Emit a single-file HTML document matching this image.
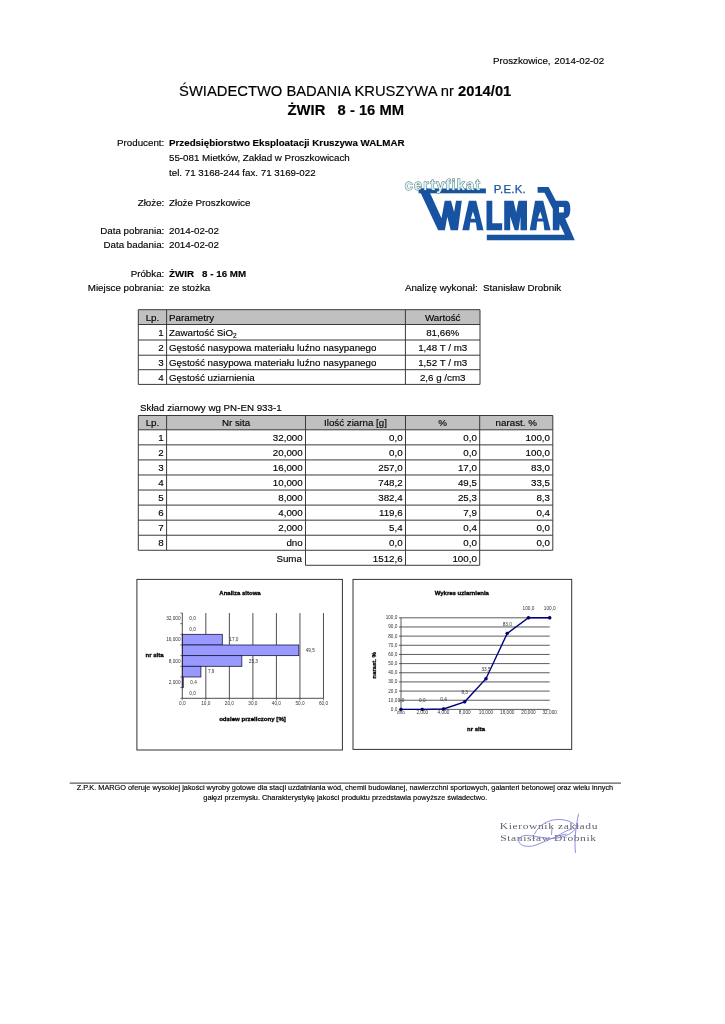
<!DOCTYPE html>
<html><head><meta charset="utf-8"><style>
html,body{margin:0;padding:0;background:#fff;}
svg{display:block;will-change:transform;}
</style></head><body>
<svg width="725" height="1024" viewBox="0 0 725 1024" font-family='"Liberation Sans", sans-serif' fill="#000" stroke="#000" stroke-width="0.15" style="white-space:pre">
<g id="logo" stroke="none">
<g fill="#1753a0">
<rect x="418.6" y="188.5" width="67.3" height="4.8"/>
<polygon points="418.6,188.5 428,188.5 441.5,218.2 444.7,200.7 451,200.7 454.1,212 456,200.7 461.8,200.7 458,230.3 450.7,230.3 447.3,216.8 444.9,230.3 438.1,230.3"/>
<path fill-rule="evenodd" d="M468.9,200.7 L476.2,200.7 L483.5,230.3 L476.9,230.3 L475.9,222.5 L470.2,222.5 L469.3,230.3 L462.3,230.3 Z M472.9,211.5 L470.8,218.8 L475.3,218.8 Z"/>
<polygon points="486.5,200.7 492.3,200.7 492.3,223.3 502.2,223.3 502.2,230.3 486.5,230.3"/>
<polygon points="504.2,200.8 513.5,200.8 516.2,212.6 518.5,200.8 527,200.8 527,230.2 520.5,230.2 520.5,216.5 518.5,230.2 514.7,230.2 510.2,216.5 510.2,230.2 504.2,230.2"/>
<path fill-rule="evenodd" d="M535.1,200.8 L543.2,200.8 L550.6,230.2 L544.4,230.2 L543.3,221.5 L537.2,221.5 L536.3,230.2 L529.7,230.2 Z M540.2,211.4 L537.8,218.4 L542.5,218.4 Z"/>
<path fill-rule="evenodd" d="M537.6,186.9 L548.6,186.9 L555.9,200.7 L566.6,200.7 Q570.3,201 570.3,209.5 Q570.3,217.5 565.2,218.6 L574.8,240.3 L486.8,240.3 L486.8,234.8 L564.8,234.8 L559.7,224 L559.2,230.3 L552.8,230.3 L552.8,209 L544.5,192.8 L537.6,192.8 Z M559,206.9 L563.6,206.9 Q564.2,209.6 563.6,212.4 L559,212.4 Z"/>
</g>
<text x="493.8" y="192.6" font-size="11.4" fill="#1753a0" stroke="#1753a0" stroke-width="0.25" letter-spacing="0.2">P.E.K.</text>
<text x="404.8" y="189.9" font-size="14.4" font-weight="bold" letter-spacing="1.25" fill="#d2f8f8" stroke="#55606a" stroke-width="0.9" paint-order="stroke">certyfikat</text>
</g>
<text x="493" y="63.6" font-size="9.78">Proszkowice,</text>
<text x="604.2" y="63.6" font-size="9.78" text-anchor="end">2014-02-02</text>
<text x="345.2" y="96.2" font-size="14.75" text-anchor="middle">ŚWIADECTWO BADANIA KRUSZYWA nr <tspan font-weight="bold">2014/01</tspan></text>
<text x="345.8" y="115" font-size="14.75" text-anchor="middle" font-weight="bold">ŻWIR &#160; 8 - 16 MM</text>
<text x="164.3" y="145.9" font-size="9.78" text-anchor="end">Producent:</text>
<text x="169" y="145.9" font-size="9.78"><tspan font-weight="bold">Przedsiębiorstwo Eksploatacji Kruszywa WALMAR</tspan></text>
<text x="169" y="160.5" font-size="9.78">55-081 Mietków, Zakład w Proszkowicach</text>
<text x="169" y="175.5" font-size="9.78">tel. 71 3168-244 fax. 71 3169-022</text>
<text x="164.3" y="206.2" font-size="9.78" text-anchor="end">Złoże:</text>
<text x="169" y="206.2" font-size="9.78">Złoże Proszkowice</text>
<text x="164.3" y="234.4" font-size="9.78" text-anchor="end">Data pobrania:</text>
<text x="169" y="234.4" font-size="9.78">2014-02-02</text>
<text x="164.3" y="247.7" font-size="9.78" text-anchor="end">Data badania:</text>
<text x="169" y="247.7" font-size="9.78">2014-02-02</text>
<text x="164.3" y="277.2" font-size="9.78" text-anchor="end">Próbka:</text>
<text x="169" y="277.2" font-size="9.78"><tspan font-weight="bold">ŻWIR &#160; 8 - 16 MM</tspan></text>
<text x="164.3" y="291" font-size="9.78" text-anchor="end">Miejsce pobrania:</text>
<text x="169" y="291" font-size="9.78">ze stożka</text>
<text x="404.9" y="291" font-size="9.78">Analizę wykonał:&#160; Stanisław Drobnik</text>
<rect x="138.3" y="309.7" width="341.7" height="14.800000000000011" fill="#c0c0c0" stroke="none" stroke-width="1"/>
<line x1="138.3" y1="309.7" x2="480" y2="309.7" stroke="#3a3a3a" stroke-width="1"/>
<line x1="138.3" y1="324.5" x2="480" y2="324.5" stroke="#3a3a3a" stroke-width="1"/>
<line x1="138.3" y1="340" x2="480" y2="340" stroke="#3a3a3a" stroke-width="1"/>
<line x1="138.3" y1="355.2" x2="480" y2="355.2" stroke="#3a3a3a" stroke-width="1"/>
<line x1="138.3" y1="369.7" x2="480" y2="369.7" stroke="#3a3a3a" stroke-width="1"/>
<line x1="138.3" y1="384.4" x2="480" y2="384.4" stroke="#3a3a3a" stroke-width="1"/>
<line x1="138.3" y1="309.7" x2="138.3" y2="384.4" stroke="#3a3a3a" stroke-width="1"/>
<line x1="166.6" y1="309.7" x2="166.6" y2="384.4" stroke="#3a3a3a" stroke-width="1"/>
<line x1="405.4" y1="309.7" x2="405.4" y2="384.4" stroke="#3a3a3a" stroke-width="1"/>
<line x1="480" y1="309.7" x2="480" y2="384.4" stroke="#3a3a3a" stroke-width="1"/>
<text x="152.45" y="320.6" font-size="9.78" text-anchor="middle">Lp.</text>
<text x="169" y="320.6" font-size="9.78">Parametry</text>
<text x="442.7" y="320.6" font-size="9.78" text-anchor="middle">Wartość</text>
<text x="163.8" y="335.75" font-size="9.78" text-anchor="end">1</text>
<text x="169" y="335.75" font-size="9.78">Zawartość SiO<tspan font-size="6.5" dy="2">2</tspan></text>
<text x="442.7" y="335.75" font-size="9.78" text-anchor="middle">81,66%</text>
<text x="163.8" y="351.1" font-size="9.78" text-anchor="end">2</text>
<text x="169" y="351.1" font-size="9.78">Gęstość nasypowa materiału luźno nasypanego</text>
<text x="442.7" y="351.1" font-size="9.78" text-anchor="middle">1,48 T / m3</text>
<text x="163.8" y="365.95" font-size="9.78" text-anchor="end">3</text>
<text x="169" y="365.95" font-size="9.78">Gęstość nasypowa materiału luźno nasypanego</text>
<text x="442.7" y="365.95" font-size="9.78" text-anchor="middle">1,52 T / m3</text>
<text x="163.8" y="380.54999999999995" font-size="9.78" text-anchor="end">4</text>
<text x="169" y="380.54999999999995" font-size="9.78">Gęstość uziarnienia</text>
<text x="442.7" y="380.54999999999995" font-size="9.78" text-anchor="middle">2,6 g /cm3</text>
<text x="140" y="410.9" font-size="9.78">Skład ziarnowy wg PN-EN 933-1</text>
<rect x="138.3" y="415.5" width="414.49999999999994" height="14.300000000000011" fill="#c0c0c0" stroke="none" stroke-width="1"/>
<line x1="138.3" y1="415.5" x2="552.8" y2="415.5" stroke="#3a3a3a" stroke-width="1"/>
<line x1="138.3" y1="429.8" x2="552.8" y2="429.8" stroke="#3a3a3a" stroke-width="1"/>
<line x1="138.3" y1="444.86" x2="552.8" y2="444.86" stroke="#3a3a3a" stroke-width="1"/>
<line x1="138.3" y1="459.92" x2="552.8" y2="459.92" stroke="#3a3a3a" stroke-width="1"/>
<line x1="138.3" y1="474.98" x2="552.8" y2="474.98" stroke="#3a3a3a" stroke-width="1"/>
<line x1="138.3" y1="490.04" x2="552.8" y2="490.04" stroke="#3a3a3a" stroke-width="1"/>
<line x1="138.3" y1="505.1" x2="552.8" y2="505.1" stroke="#3a3a3a" stroke-width="1"/>
<line x1="138.3" y1="520.16" x2="552.8" y2="520.16" stroke="#3a3a3a" stroke-width="1"/>
<line x1="138.3" y1="535.22" x2="552.8" y2="535.22" stroke="#3a3a3a" stroke-width="1"/>
<line x1="138.3" y1="550.28" x2="552.8" y2="550.28" stroke="#3a3a3a" stroke-width="1"/>
<line x1="138.3" y1="415.5" x2="138.3" y2="550.28" stroke="#3a3a3a" stroke-width="1"/>
<line x1="166.6" y1="415.5" x2="166.6" y2="550.28" stroke="#3a3a3a" stroke-width="1"/>
<line x1="305.5" y1="415.5" x2="305.5" y2="550.28" stroke="#3a3a3a" stroke-width="1"/>
<line x1="405.5" y1="415.5" x2="405.5" y2="550.28" stroke="#3a3a3a" stroke-width="1"/>
<line x1="479.7" y1="415.5" x2="479.7" y2="550.28" stroke="#3a3a3a" stroke-width="1"/>
<line x1="552.8" y1="415.5" x2="552.8" y2="550.28" stroke="#3a3a3a" stroke-width="1"/>
<text x="152.45" y="426.15" font-size="9.78" text-anchor="middle">Lp.</text>
<text x="236.05" y="426.15" font-size="9.78" text-anchor="middle">Nr sita</text>
<text x="355.5" y="426.15" font-size="9.78" text-anchor="middle">Ilość ziarna [g]</text>
<text x="442.6" y="426.15" font-size="9.78" text-anchor="middle">%</text>
<text x="516.25" y="426.15" font-size="9.78" text-anchor="middle">narast. %</text>
<text x="163.79999999999998" y="440.83000000000004" font-size="9.78" text-anchor="end">1</text>
<text x="302.7" y="440.83000000000004" font-size="9.78" text-anchor="end">32,000</text>
<text x="402.7" y="440.83000000000004" font-size="9.78" text-anchor="end">0,0</text>
<text x="476.9" y="440.83000000000004" font-size="9.78" text-anchor="end">0,0</text>
<text x="550.0" y="440.83000000000004" font-size="9.78" text-anchor="end">100,0</text>
<text x="163.79999999999998" y="455.89" font-size="9.78" text-anchor="end">2</text>
<text x="302.7" y="455.89" font-size="9.78" text-anchor="end">20,000</text>
<text x="402.7" y="455.89" font-size="9.78" text-anchor="end">0,0</text>
<text x="476.9" y="455.89" font-size="9.78" text-anchor="end">0,0</text>
<text x="550.0" y="455.89" font-size="9.78" text-anchor="end">100,0</text>
<text x="163.79999999999998" y="470.95000000000005" font-size="9.78" text-anchor="end">3</text>
<text x="302.7" y="470.95000000000005" font-size="9.78" text-anchor="end">16,000</text>
<text x="402.7" y="470.95000000000005" font-size="9.78" text-anchor="end">257,0</text>
<text x="476.9" y="470.95000000000005" font-size="9.78" text-anchor="end">17,0</text>
<text x="550.0" y="470.95000000000005" font-size="9.78" text-anchor="end">83,0</text>
<text x="163.79999999999998" y="486.01" font-size="9.78" text-anchor="end">4</text>
<text x="302.7" y="486.01" font-size="9.78" text-anchor="end">10,000</text>
<text x="402.7" y="486.01" font-size="9.78" text-anchor="end">748,2</text>
<text x="476.9" y="486.01" font-size="9.78" text-anchor="end">49,5</text>
<text x="550.0" y="486.01" font-size="9.78" text-anchor="end">33,5</text>
<text x="163.79999999999998" y="501.07000000000005" font-size="9.78" text-anchor="end">5</text>
<text x="302.7" y="501.07000000000005" font-size="9.78" text-anchor="end">8,000</text>
<text x="402.7" y="501.07000000000005" font-size="9.78" text-anchor="end">382,4</text>
<text x="476.9" y="501.07000000000005" font-size="9.78" text-anchor="end">25,3</text>
<text x="550.0" y="501.07000000000005" font-size="9.78" text-anchor="end">8,3</text>
<text x="163.79999999999998" y="516.13" font-size="9.78" text-anchor="end">6</text>
<text x="302.7" y="516.13" font-size="9.78" text-anchor="end">4,000</text>
<text x="402.7" y="516.13" font-size="9.78" text-anchor="end">119,6</text>
<text x="476.9" y="516.13" font-size="9.78" text-anchor="end">7,9</text>
<text x="550.0" y="516.13" font-size="9.78" text-anchor="end">0,4</text>
<text x="163.79999999999998" y="531.19" font-size="9.78" text-anchor="end">7</text>
<text x="302.7" y="531.19" font-size="9.78" text-anchor="end">2,000</text>
<text x="402.7" y="531.19" font-size="9.78" text-anchor="end">5,4</text>
<text x="476.9" y="531.19" font-size="9.78" text-anchor="end">0,4</text>
<text x="550.0" y="531.19" font-size="9.78" text-anchor="end">0,0</text>
<text x="163.79999999999998" y="546.25" font-size="9.78" text-anchor="end">8</text>
<text x="302.7" y="546.25" font-size="9.78" text-anchor="end">dno</text>
<text x="402.7" y="546.25" font-size="9.78" text-anchor="end">0,0</text>
<text x="476.9" y="546.25" font-size="9.78" text-anchor="end">0,0</text>
<text x="550.0" y="546.25" font-size="9.78" text-anchor="end">0,0</text>
<line x1="305.5" y1="565.28" x2="479.7" y2="565.28" stroke="#3a3a3a" stroke-width="1"/>
<line x1="305.5" y1="550.28" x2="305.5" y2="565.28" stroke="#3a3a3a" stroke-width="1"/>
<line x1="405.5" y1="550.28" x2="405.5" y2="565.28" stroke="#3a3a3a" stroke-width="1"/>
<line x1="479.7" y1="550.28" x2="479.7" y2="565.28" stroke="#3a3a3a" stroke-width="1"/>
<text x="301.9" y="562.0799999999999" font-size="9.78" text-anchor="end">Suma</text>
<text x="402.7" y="562.0799999999999" font-size="9.78" text-anchor="end">1512,6</text>
<text x="476.9" y="562.0799999999999" font-size="9.78" text-anchor="end">100,0</text>
<rect x="136.9" y="579.4" width="205.49999999999997" height="170.60000000000002" fill="none" stroke="#333" stroke-width="1"/>
<text x="240" y="594.7" font-size="6" text-anchor="middle" font-weight="bold" stroke-width="0.3">Analiza sitowa</text>
<line x1="205.83" y1="613" x2="205.83" y2="698.3" stroke="#222" stroke-width="0.8"/>
<line x1="229.36" y1="613" x2="229.36" y2="698.3" stroke="#222" stroke-width="0.8"/>
<line x1="252.89000000000001" y1="613" x2="252.89000000000001" y2="698.3" stroke="#222" stroke-width="0.8"/>
<line x1="276.42" y1="613" x2="276.42" y2="698.3" stroke="#222" stroke-width="0.8"/>
<line x1="299.95000000000005" y1="613" x2="299.95000000000005" y2="698.3" stroke="#222" stroke-width="0.8"/>
<line x1="323.48" y1="613" x2="323.48" y2="698.3" stroke="#222" stroke-width="0.8"/>
<text x="189.3" y="620.1312499999999" font-size="4.7" fill="#333" stroke="none">0,0</text>
<text x="189.3" y="630.7937499999999" font-size="4.7" fill="#333" stroke="none">0,0</text>
<rect x="182.3" y="634.325" width="40.001000000000005" height="10.662499999999994" fill="#9999ff" stroke="#1a1a40" stroke-width="0.8"/>
<text x="229.30100000000002" y="641.45625" font-size="4.7" fill="#333" stroke="none">17,0</text>
<rect x="182.3" y="644.9875" width="116.47350000000002" height="10.662499999999994" fill="#9999ff" stroke="#1a1a40" stroke-width="0.8"/>
<text x="305.7735" y="652.11875" font-size="4.7" fill="#333" stroke="none">49,5</text>
<rect x="182.3" y="655.65" width="59.53090000000001" height="10.662499999999994" fill="#9999ff" stroke="#1a1a40" stroke-width="0.8"/>
<text x="248.8309" y="662.7812499999999" font-size="4.7" fill="#333" stroke="none">25,3</text>
<rect x="182.3" y="666.3125" width="18.588700000000003" height="10.662499999999994" fill="#9999ff" stroke="#1a1a40" stroke-width="0.8"/>
<text x="207.88870000000003" y="673.4437499999999" font-size="4.7" fill="#333" stroke="none">7,9</text>
<rect x="182.3" y="676.9749999999999" width="0.9412000000000001" height="10.662499999999994" fill="#9999ff" stroke="#1a1a40" stroke-width="0.8"/>
<text x="190.24120000000002" y="684.1062499999999" font-size="4.7" fill="#333" stroke="none">0,4</text>
<text x="189.3" y="694.76875" font-size="4.7" fill="#333" stroke="none">0,0</text>
<line x1="182.3" y1="613" x2="182.3" y2="698.3" stroke="#222" stroke-width="0.8"/>
<line x1="182.3" y1="698.3" x2="323.48" y2="698.3" stroke="#222" stroke-width="0.8"/>
<line x1="180.3" y1="613.0" x2="182.3" y2="613.0" stroke="#222" stroke-width="0.6"/>
<line x1="180.3" y1="623.6625" x2="182.3" y2="623.6625" stroke="#222" stroke-width="0.6"/>
<line x1="180.3" y1="634.325" x2="182.3" y2="634.325" stroke="#222" stroke-width="0.6"/>
<line x1="180.3" y1="644.9875" x2="182.3" y2="644.9875" stroke="#222" stroke-width="0.6"/>
<line x1="180.3" y1="655.65" x2="182.3" y2="655.65" stroke="#222" stroke-width="0.6"/>
<line x1="180.3" y1="666.3125" x2="182.3" y2="666.3125" stroke="#222" stroke-width="0.6"/>
<line x1="180.3" y1="676.9749999999999" x2="182.3" y2="676.9749999999999" stroke="#222" stroke-width="0.6"/>
<line x1="180.3" y1="687.6374999999999" x2="182.3" y2="687.6374999999999" stroke="#222" stroke-width="0.6"/>
<line x1="180.3" y1="698.3" x2="182.3" y2="698.3" stroke="#222" stroke-width="0.6"/>
<line x1="182.3" y1="698.3" x2="182.3" y2="700.3" stroke="#222" stroke-width="0.6"/>
<text x="182.3" y="704.8" font-size="4.7" text-anchor="middle" fill="#333" stroke="none">0,0</text>
<line x1="205.83" y1="698.3" x2="205.83" y2="700.3" stroke="#222" stroke-width="0.6"/>
<text x="205.83" y="704.8" font-size="4.7" text-anchor="middle" fill="#333" stroke="none">10,0</text>
<line x1="229.36" y1="698.3" x2="229.36" y2="700.3" stroke="#222" stroke-width="0.6"/>
<text x="229.36" y="704.8" font-size="4.7" text-anchor="middle" fill="#333" stroke="none">20,0</text>
<line x1="252.89000000000001" y1="698.3" x2="252.89000000000001" y2="700.3" stroke="#222" stroke-width="0.6"/>
<text x="252.89000000000001" y="704.8" font-size="4.7" text-anchor="middle" fill="#333" stroke="none">30,0</text>
<line x1="276.42" y1="698.3" x2="276.42" y2="700.3" stroke="#222" stroke-width="0.6"/>
<text x="276.42" y="704.8" font-size="4.7" text-anchor="middle" fill="#333" stroke="none">40,0</text>
<line x1="299.95000000000005" y1="698.3" x2="299.95000000000005" y2="700.3" stroke="#222" stroke-width="0.6"/>
<text x="299.95000000000005" y="704.8" font-size="4.7" text-anchor="middle" fill="#333" stroke="none">50,0</text>
<line x1="323.48" y1="698.3" x2="323.48" y2="700.3" stroke="#222" stroke-width="0.6"/>
<text x="323.48" y="704.8" font-size="4.7" text-anchor="middle" fill="#333" stroke="none">60,0</text>
<text x="180.5" y="620.1312499999999" font-size="4.7" text-anchor="end" fill="#333" stroke="none">32,000</text>
<text x="180.5" y="641.45625" font-size="4.7" text-anchor="end" fill="#333" stroke="none">16,000</text>
<text x="180.5" y="662.7812499999999" font-size="4.7" text-anchor="end" fill="#333" stroke="none">8,000</text>
<text x="180.5" y="684.1062499999999" font-size="4.7" text-anchor="end" fill="#333" stroke="none">2,000</text>
<text x="252.5" y="720.7" font-size="6.1" text-anchor="middle" font-weight="bold" stroke-width="0.3">odsiew przeliczony [%]</text>
<text x="154.5" y="656.5" font-size="6" text-anchor="middle" font-weight="bold" stroke-width="0.3">nr sita</text>
<rect x="353" y="579.4" width="218.70000000000005" height="170.0" fill="none" stroke="#333" stroke-width="1"/>
<text x="461.8" y="594.7" font-size="6" text-anchor="middle" font-weight="bold" stroke-width="0.3">Wykres uziarnienia</text>
<line x1="399" y1="709.4" x2="549.701" y2="709.4" stroke="#333" stroke-width="0.8"/>
<text x="397.4" y="710.9" font-size="4.7" text-anchor="end" fill="#333" stroke="none">0,0</text>
<line x1="399" y1="700.24" x2="549.701" y2="700.24" stroke="#333" stroke-width="0.8"/>
<text x="397.4" y="701.74" font-size="4.7" text-anchor="end" fill="#333" stroke="none">10,0</text>
<line x1="399" y1="691.0799999999999" x2="549.701" y2="691.0799999999999" stroke="#333" stroke-width="0.8"/>
<text x="397.4" y="692.5799999999999" font-size="4.7" text-anchor="end" fill="#333" stroke="none">20,0</text>
<line x1="399" y1="681.92" x2="549.701" y2="681.92" stroke="#333" stroke-width="0.8"/>
<text x="397.4" y="683.42" font-size="4.7" text-anchor="end" fill="#333" stroke="none">30,0</text>
<line x1="399" y1="672.76" x2="549.701" y2="672.76" stroke="#333" stroke-width="0.8"/>
<text x="397.4" y="674.26" font-size="4.7" text-anchor="end" fill="#333" stroke="none">40,0</text>
<line x1="399" y1="663.6" x2="549.701" y2="663.6" stroke="#333" stroke-width="0.8"/>
<text x="397.4" y="665.1" font-size="4.7" text-anchor="end" fill="#333" stroke="none">50,0</text>
<line x1="399" y1="654.4399999999999" x2="549.701" y2="654.4399999999999" stroke="#333" stroke-width="0.8"/>
<text x="397.4" y="655.9399999999999" font-size="4.7" text-anchor="end" fill="#333" stroke="none">60,0</text>
<line x1="399" y1="645.28" x2="549.701" y2="645.28" stroke="#333" stroke-width="0.8"/>
<text x="397.4" y="646.78" font-size="4.7" text-anchor="end" fill="#333" stroke="none">70,0</text>
<line x1="399" y1="636.12" x2="549.701" y2="636.12" stroke="#333" stroke-width="0.8"/>
<text x="397.4" y="637.62" font-size="4.7" text-anchor="end" fill="#333" stroke="none">80,0</text>
<line x1="399" y1="626.96" x2="549.701" y2="626.96" stroke="#333" stroke-width="0.8"/>
<text x="397.4" y="628.46" font-size="4.7" text-anchor="end" fill="#333" stroke="none">90,0</text>
<line x1="399" y1="617.8" x2="549.701" y2="617.8" stroke="#333" stroke-width="0.8"/>
<text x="397.4" y="619.3" font-size="4.7" text-anchor="end" fill="#333" stroke="none">100,0</text>
<line x1="401" y1="617.8" x2="401" y2="709.4" stroke="#333" stroke-width="0.8"/>
<polyline points="401.00,709.40 422.24,709.40 443.49,709.03 464.73,701.80 485.97,678.71 507.21,633.37 528.46,617.80 549.70,617.80" fill="none" stroke="#000080" stroke-width="1.4"/>
<circle cx="401.00" cy="709.40" r="1.7" fill="#000080"/>
<text x="401.0" y="701.6" font-size="4.7" text-anchor="middle" fill="#333" stroke="none">0,0</text>
<text x="401.0" y="713.5" font-size="4.7" text-anchor="middle" fill="#333" stroke="none">dno</text>
<circle cx="422.24" cy="709.40" r="1.7" fill="#000080"/>
<text x="422.243" y="701.6" font-size="4.7" text-anchor="middle" fill="#333" stroke="none">0,0</text>
<text x="422.243" y="713.5" font-size="4.7" text-anchor="middle" fill="#333" stroke="none">2,000</text>
<circle cx="443.49" cy="709.03" r="1.7" fill="#000080"/>
<text x="443.486" y="701.2336" font-size="4.7" text-anchor="middle" fill="#333" stroke="none">0,4</text>
<text x="443.486" y="713.5" font-size="4.7" text-anchor="middle" fill="#333" stroke="none">4,000</text>
<circle cx="464.73" cy="701.80" r="1.7" fill="#000080"/>
<text x="464.729" y="693.9972" font-size="4.7" text-anchor="middle" fill="#333" stroke="none">8,3</text>
<text x="464.729" y="713.5" font-size="4.7" text-anchor="middle" fill="#333" stroke="none">8,000</text>
<circle cx="485.97" cy="678.71" r="1.7" fill="#000080"/>
<text x="485.972" y="670.914" font-size="4.7" text-anchor="middle" fill="#333" stroke="none">33,5</text>
<text x="485.972" y="713.5" font-size="4.7" text-anchor="middle" fill="#333" stroke="none">10,000</text>
<circle cx="507.21" cy="633.37" r="1.7" fill="#000080"/>
<text x="507.215" y="625.572" font-size="4.7" text-anchor="middle" fill="#333" stroke="none">83,0</text>
<text x="507.215" y="713.5" font-size="4.7" text-anchor="middle" fill="#333" stroke="none">16,000</text>
<circle cx="528.46" cy="617.80" r="1.7" fill="#000080"/>
<text x="528.458" y="610.0" font-size="4.7" text-anchor="middle" fill="#333" stroke="none">100,0</text>
<text x="528.458" y="713.5" font-size="4.7" text-anchor="middle" fill="#333" stroke="none">20,000</text>
<circle cx="549.70" cy="617.80" r="1.7" fill="#000080"/>
<text x="549.701" y="610.0" font-size="4.7" text-anchor="middle" fill="#333" stroke="none">100,0</text>
<text x="549.701" y="713.5" font-size="4.7" text-anchor="middle" fill="#333" stroke="none">32,000</text>
<text x="476" y="730.5" font-size="6" text-anchor="middle" font-weight="bold" stroke-width="0.3">nr sita</text>
<text x="0" y="0" font-size="6" font-weight="bold" stroke-width="0.3" text-anchor="middle" transform="translate(376,665.4) rotate(-90)">narast. %</text>
<line x1="69.7" y1="783.1" x2="621" y2="783.1" stroke="#333" stroke-width="1"/>
<text x="345" y="789.7" font-size="7.33" text-anchor="middle">Z.P.K. MARGO oferuje wysokiej jakości wyroby gotowe dla stacji uzdatniania wód, chemii budowlanej, nawierzchni sportowych, galanteri betonowej oraz wielu innych</text>
<text x="345.3" y="799.7" font-size="7.33" text-anchor="middle">gałęzi przemysłu. Charakterystykę jakości produktu przedstawia powyższe świadectwo.</text>
<g font-family="'Liberation Serif', serif" fill="#5e5e70" stroke="none">
<text x="0" y="0" font-size="8.4" letter-spacing="0.45" transform="translate(499.8,828.6) scale(1.37,1)">Kierownik zakładu</text>
<text x="0" y="0" font-size="8.4" letter-spacing="0.45" transform="translate(500.3,840.8) scale(1.37,1)">Stanisław Drobnik</text>
</g>
<g fill="none" stroke="#8484d8" stroke-width="0.9" stroke-linecap="round"><path d="M578.5,814 C576,826 574,840 575.5,852.5"/><path d="M534.5,834 C539,824 550,819 560,819.5 C568,820 574,823 577,827"/><path d="M577,827 C572,835 560,840 545,838 C532,836 522,833 519,839 C517,846 528,848 536,845 C545,842 555,836 566,834"/><path d="M552,828.5 L551.5,834.5"/><path d="M556,837 C562,833 567,830 572,829"/></g>
</svg></body></html>
